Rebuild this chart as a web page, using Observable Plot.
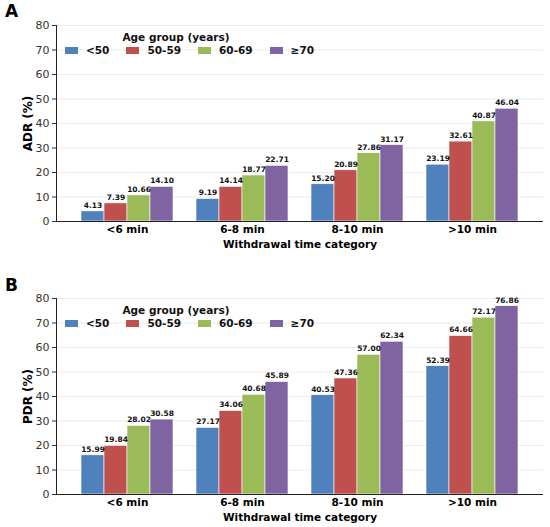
<!DOCTYPE html>
<html>
<head>
<meta charset="utf-8">
<script src="https://cdn.jsdelivr.net/npm/d3@7"></script>
<script src="https://cdn.jsdelivr.net/npm/@observablehq/plot@0.6"></script>
<style>
  body { margin: 0; background: #fff; font-family: "DejaVu Sans", sans-serif; }
  .panel { position: relative; width: 550px; }
  .panel svg { position: absolute; left: 0; top: 0; }
  .letter { position: absolute; left: 5px; font-weight: bold; font-size: 17px; color: #000; }
  .legend { position: absolute; left: 56px; font-size: 10.5px; font-weight: bold; color: #111; }
  .legend .ttl { position: absolute; width: 240px; left: 0; text-align: center; }
  .legend .row { position: absolute; left: 9px; white-space: nowrap; display: flex; align-items: center; }
  .legend .sw { display: inline-block; width: 13px; height: 7px; margin-right: 8px; }
  .legend .it { display: inline-flex; align-items: center; margin-right: 17px; }
</style>
</head>
<body>
<div id="root"></div>
<script>
const categories = ["<6 min", "6-8 min", "8-10 min", ">10 min"];
const ageGroups = ["<50", "50-59", "60-69", "≥70"];
const colors = ["#4F81BD", "#C0504D", "#9BBB59", "#8064A2"];
const yTicks = [0, 10, 20, 30, 40, 50, 60, 70, 80];

// values per category, in age-group order
const adrValues = [
  [4.13, 7.39, 10.66, 14.10],
  [9.19, 14.14, 18.77, 22.71],
  [15.20, 20.89, 27.86, 31.17],
  [23.19, 32.61, 40.87, 46.04]
];
const pdrValues = [
  [15.99, 19.84, 28.02, 30.58],
  [27.17, 34.06, 40.68, 45.89],
  [40.53, 47.36, 57.00, 62.34],
  [52.39, 64.66, 72.17, 76.86]
];

function toRows(values) {
  const rows = [];
  categories.forEach((c, i) => ageGroups.forEach((a, j) => rows.push({cat: c, age: a, value: values[i][j]})));
  return rows;
}

function panel(letter, letterTop, yLabel, values, height, mt, mb) {
  const rows = toRows(values);
  const div = document.createElement("div");
  div.className = "panel";
  div.style.height = height + "px";
  const common = {
    width: 550, height, marginLeft: 56, marginRight: 7, marginTop: mt, marginBottom: mb,
    style: {fontFamily: "DejaVu Sans, sans-serif", background: "transparent", overflow: "visible"}
  };
  // background layer: grid, axes, labels
  const back = Plot.plot({
    ...common,
    style: {...common.style, background: "#fff"},
    x: {type: "band", domain: categories, paddingInner: 0.2, paddingOuter: 0.2, label: null, axis: null},
    y: {domain: [0, 80], label: null, axis: null},
    marks: [
      Plot.ruleY(yTicks.slice(1), {stroke: "#e6e6e6", strokeWidth: 0.8}),
      Plot.axisY({ticks: yTicks, tickSize: 4, tickPadding: 3, fontSize: 11, color: "#333", label: null}),
      Plot.axisX({anchor: "bottom", tickSize: 0, tickPadding: 4, fontSize: 10.5, fontWeight: "bold", color: "#000",
        label: "Withdrawal time category", labelAnchor: "center", labelOffset: 26, labelArrow: "none"}),
      Plot.text([yLabel], {frameAnchor: "left", rotate: -90, dx: -28, textAnchor: "middle", lineAnchor: "middle",
        fontSize: 12, fontWeight: "bold", fill: "#000"})
    ]
  });
  // foreground layer: grouped bars and value labels
  const front = Plot.plot({
    ...common,
    fx: {domain: categories, paddingInner: 0.2, paddingOuter: 0.2, axis: null, label: null},
    x: {domain: ageGroups, padding: 0, axis: null},
    y: {domain: [0, 80], axis: null},
    color: {domain: ageGroups, range: colors},
    marks: [
      Plot.barY(rows, {fx: "cat", x: "age", y: "value", fill: "age", stroke: "#fff", strokeWidth: 0.6}),
      Plot.text(rows, {fx: "cat", x: "age", y: "value", text: d => d.value.toFixed(2), dy: -6,
        fontSize: 7.5, fontWeight: "bold", fill: "#111"})
    ]
  });
  // axis lines on top
  const lines = Plot.plot({
    ...common,
    x: {domain: [0, 1], axis: null},
    y: {domain: [0, 80], axis: null},
    marks: [
      Plot.ruleY([0], {stroke: "#222", strokeWidth: 1}),
      Plot.ruleX([0], {stroke: "#222", strokeWidth: 1})
    ]
  });
  div.appendChild(back);
  div.appendChild(front);
  div.appendChild(lines);
  const L = document.createElement("div");
  L.className = "letter";
  L.style.top = letterTop + "px";
  L.textContent = letter;
  div.appendChild(L);
  const leg = document.createElement("div");
  leg.className = "legend";
  leg.style.top = (mt + 6) + "px";
  const ttl = document.createElement("div");
  ttl.className = "ttl";
  ttl.textContent = "Age group (years)";
  leg.appendChild(ttl);
  const row = document.createElement("div");
  row.className = "row";
  row.style.top = "13px";
  ageGroups.forEach((a, i) => {
    const it = document.createElement("span");
    it.className = "it";
    const sw = document.createElement("span");
    sw.className = "sw";
    sw.style.background = colors[i];
    it.appendChild(sw);
    it.appendChild(document.createTextNode(a));
    row.appendChild(it);
  });
  leg.appendChild(row);
  div.appendChild(leg);
  return div;
}

const root = document.getElementById("root");
root.appendChild(panel("A", 1, "ADR (%)", adrValues, 263, 25, 42));
root.appendChild(panel("B", 12, "PDR (%)", pdrValues, 264, 35, 33));
</script>
</body>
</html>
